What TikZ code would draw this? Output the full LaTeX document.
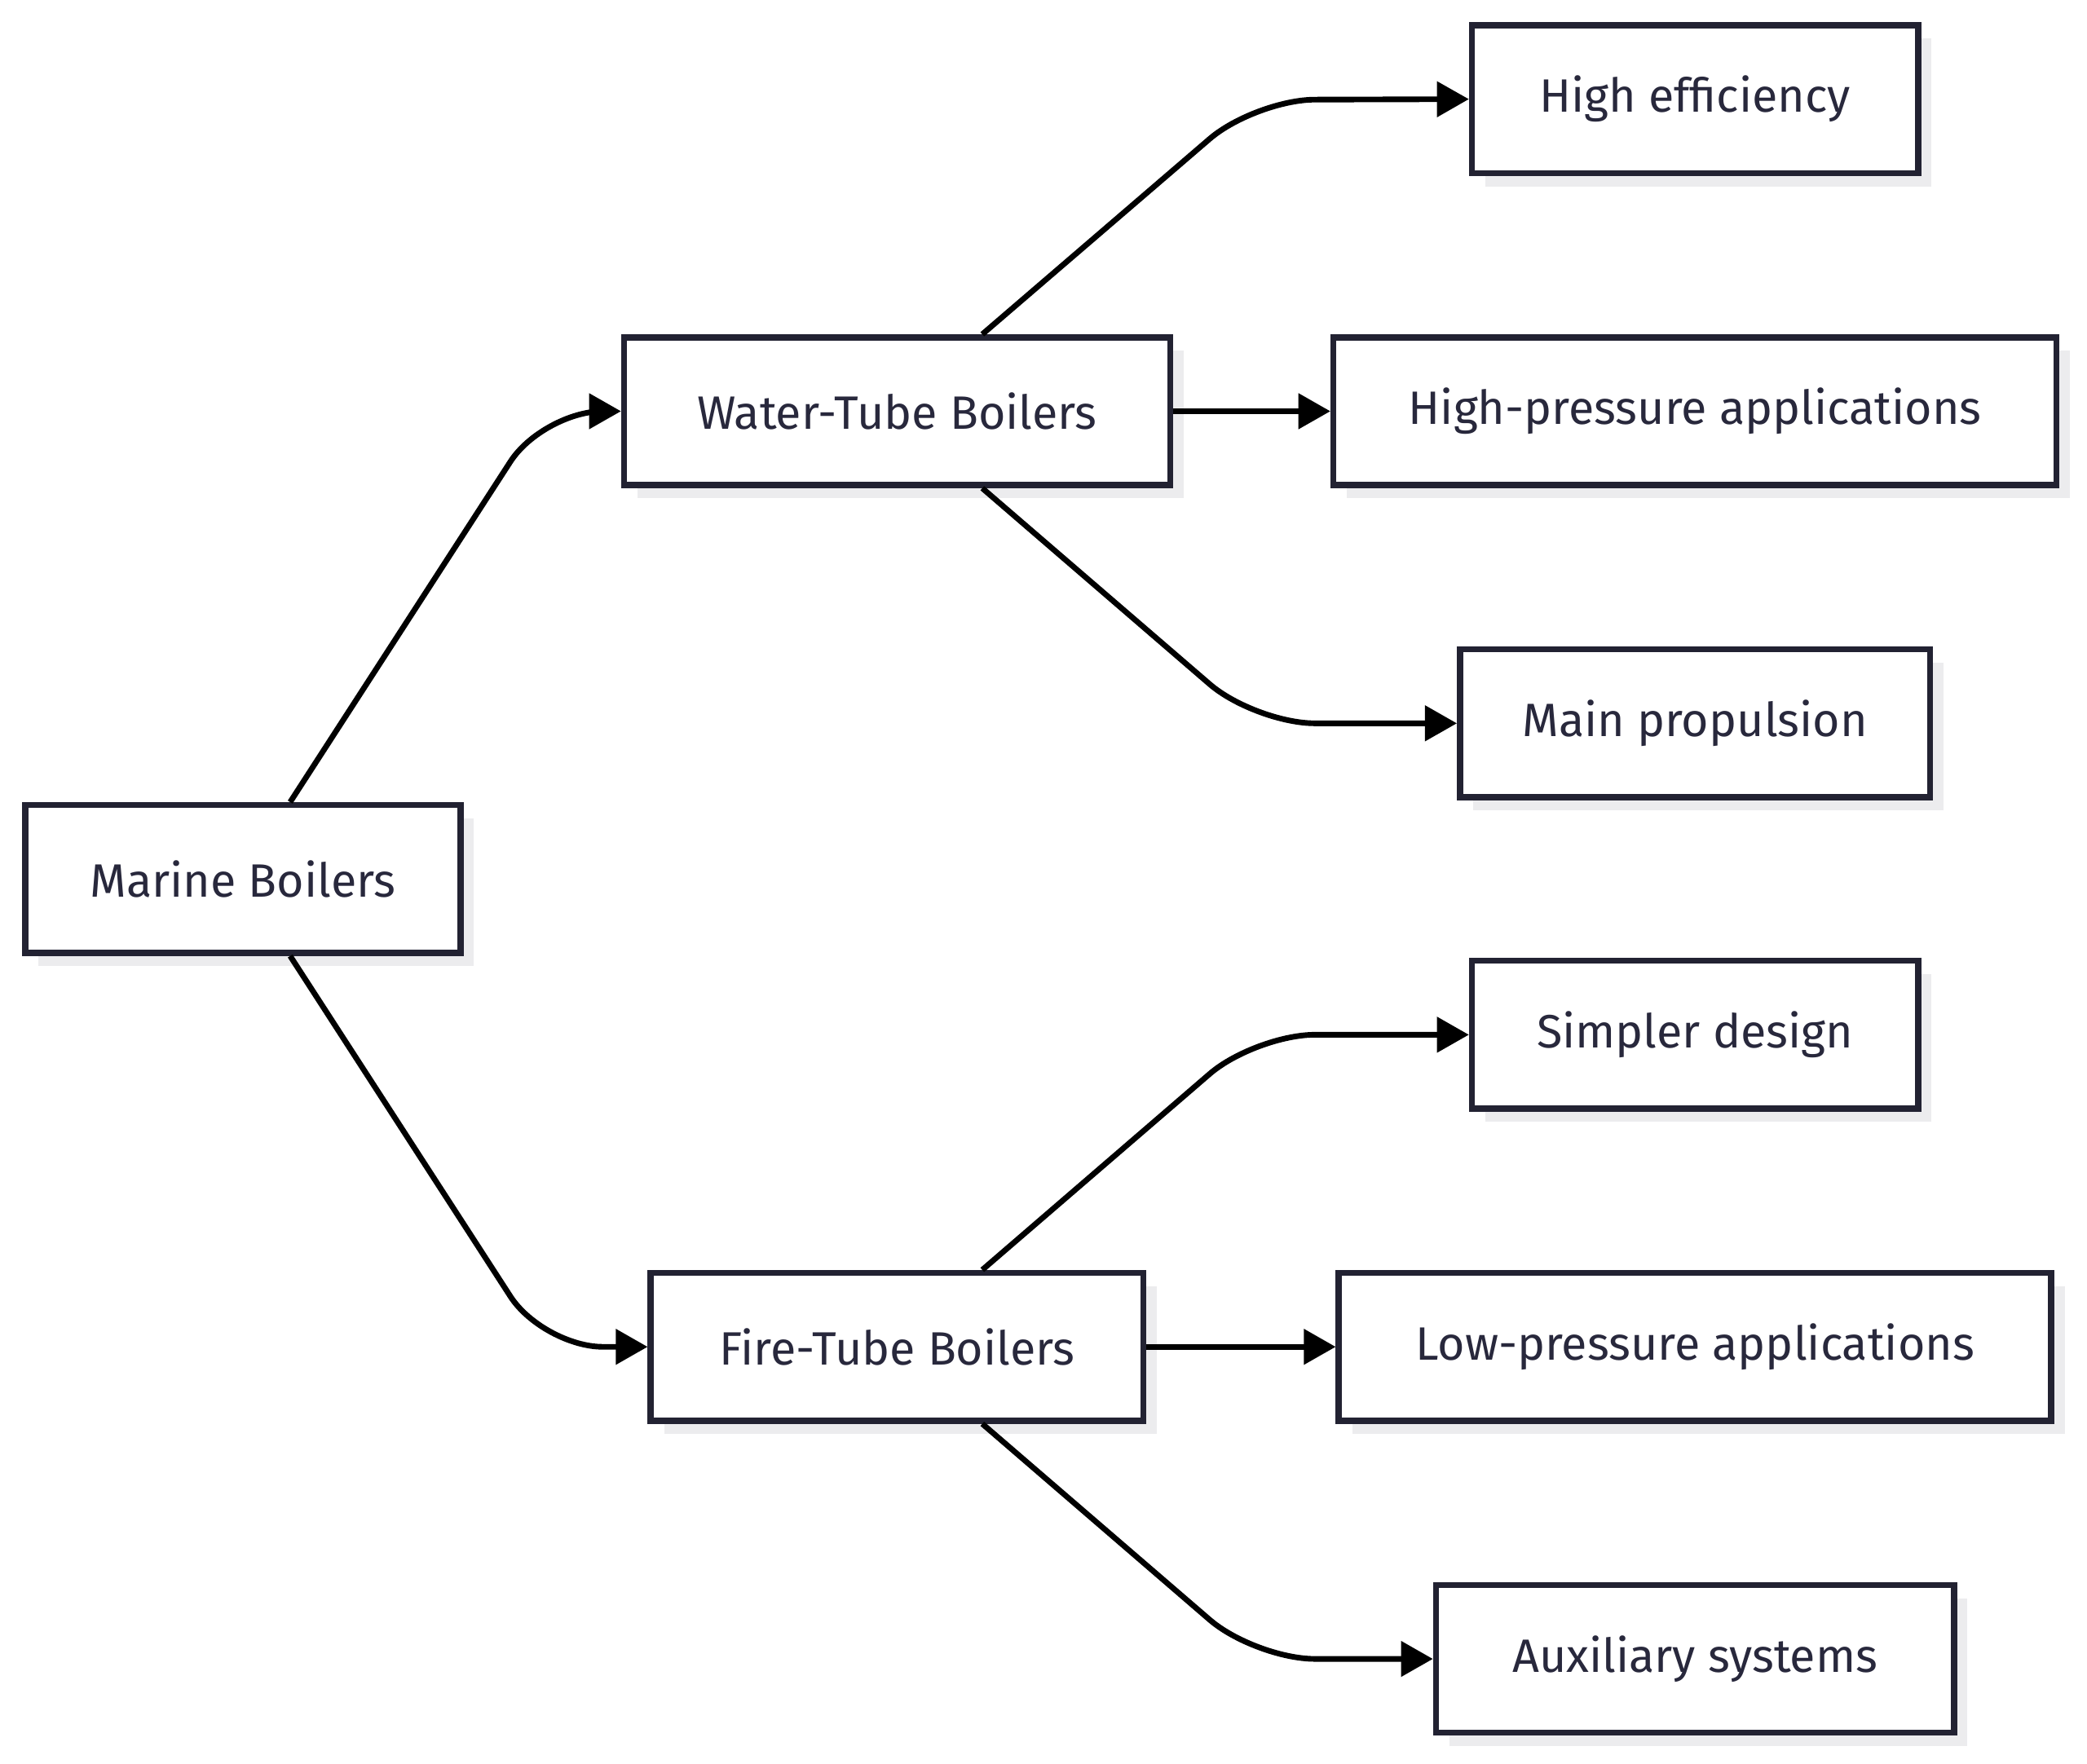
\documentclass[tikz,border=0pt]{standalone}
\usepackage{fontspec}
\setmainfont{Fira Sans}
\usetikzlibrary{arrows.meta,shadows,positioning}
\definecolor{boxline}{RGB}{34,34,50}
\definecolor{boxtext}{RGB}{40,40,60}
\definecolor{shade}{RGB}{236,236,238}
\begin{document}
\begin{tikzpicture}[x=0.01cm,y=-0.01cm,
	box/.style={draw=boxline,line width=1.3pt,fill=white,minimum height=1.11cm,
		text=boxtext,font=\fontsize{10}{12}\selectfont,
		drop shadow={shadow xshift=0.1cm,shadow yshift=-0.1cm,fill=shade,opacity=1}},
	link/.style={line width=1.2pt,rounded corners=0.45cm,-{Triangle[length=0.24cm,width=0.26cm]}}]
	\useasboundingbox (0,0) rectangle (1568,1325);
	% nodes
	\node[box,minimum width=3.27cm] (mb) at (182.5,660.5) {Marine Boilers};
	\node[box,minimum width=4.10cm] (wt) at (674,309) {Water-Tube Boilers};
	\node[box,minimum width=3.70cm] (ft) at (674,1012) {Fire-Tube Boilers};
	\node[box,minimum width=3.35cm] (he) at (1273.5,74.5) {High efficiency};
	\node[box,minimum width=5.43cm] (hp) at (1273.5,309) {High-pressure applications};
	\node[box,minimum width=3.53cm] (mp) at (1273.5,543.5) {Main propulsion};
	\node[box,minimum width=3.35cm] (sd) at (1273.5,777.5) {Simpler design};
	\node[box,minimum width=5.35cm] (lp) at (1273.5,1012) {Low-pressure applications};
	\node[box,minimum width=3.89cm] (as) at (1273.5,1246.5) {Auxiliary systems};
	
	% connectors
	\draw[link] (mb.north -| 218,0) -- (408,309) -- (wt.west);
	\draw[link] (mb.south -| 218,0) -- (408,1012) -- (ft.west);
	\draw[link] (wt.north -| 738,0) -- (943,75) -- (he.west);
	\draw[link] (wt.east) -- (hp.west);
	\draw[link] (wt.south -| 738,0) -- (943,543.5) -- (mp.west);
	\draw[link] (ft.north -| 738,0) -- (943,777.5) -- (sd.west);
	\draw[link] (ft.east) -- (lp.west);
	\draw[link] (ft.south -| 738,0) -- (943,1246.5) -- (as.west);
\end{tikzpicture}
\end{document}
